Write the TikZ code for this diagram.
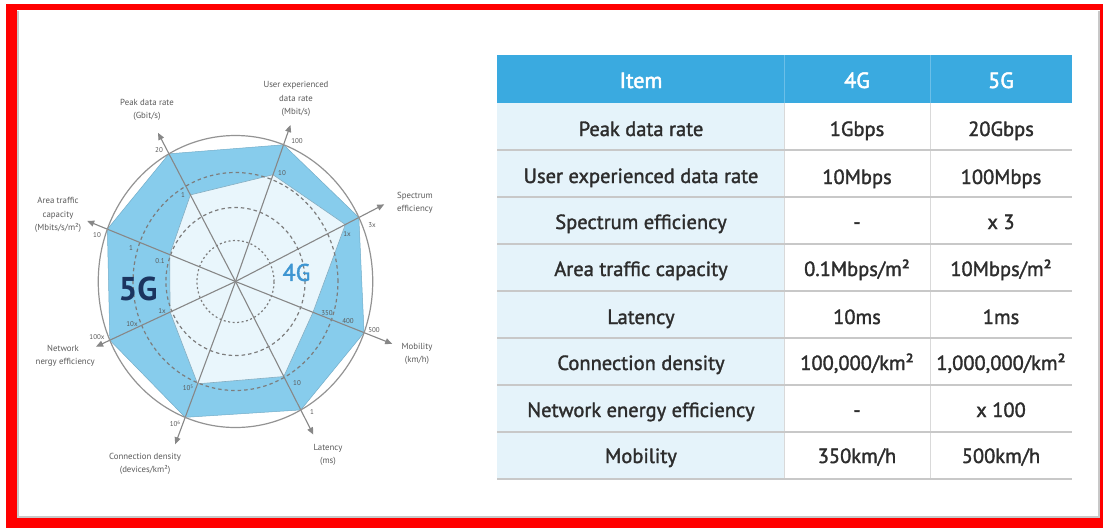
\documentclass[tikz,border=0pt]{standalone}
\usepackage{fontspec}
\setmainfont{PT Sans}
\newfontfamily\tabfont{PT Sans}[FakeBold=1.6]
\newfontfamily\hdrfont{PT Sans}[FakeBold=2.2]
\usetikzlibrary{arrows.meta}
\definecolor{framered}{RGB}{255,0,0}
\definecolor{hdr}{RGB}{58,170,224}
\definecolor{itembg}{RGB}{229,243,250}
\definecolor{fivefill}{RGB}{135,204,236}
\definecolor{fourfill}{RGB}{233,246,252}
\definecolor{axisgray}{RGB}{135,135,135}
\definecolor{ringgray}{RGB}{125,125,125}
\definecolor{labgray}{RGB}{90,90,90}
\definecolor{navy}{RGB}{27,52,95}
\definecolor{fourblue}{RGB}{62,150,210}
\definecolor{txt}{RGB}{45,45,45}
\definecolor{linegray}{RGB}{200,200,200}
\definecolor{shadowgray}{RGB}{200,200,200}
\newcommand{\supsm}[1]{\raisebox{0.55ex}{\fontsize{5}{5}\selectfont #1}}
\begin{document}
\begin{tikzpicture}[x=1pt,y=-1pt,
  axislbl/.style={font=\fontsize{8.8}{13.2}\selectfont, text=labgray, align=center, inner sep=0},
  ticklbl/.style={font=\fontsize{7}{8}\selectfont, text=labgray, inner sep=0},
  cell/.style={font=\tabfont\fontsize{20.5}{24}\selectfont, text=txt, inner sep=0, anchor=base},
  hcell/.style={font=\hdrfont\fontsize{22}{24}\selectfont, text=white, inner sep=0, anchor=base},
  axisline/.style={draw=axisgray, line width=1.1pt, -{Triangle[length=7pt,width=6pt]}},
  ringA/.style={draw=ringgray, line width=1.2pt, dash pattern=on 3.5pt off 3pt},
  ringB/.style={draw=ringgray, line width=1.2pt, dash pattern=on 2pt off 2.5pt},
  rowline/.style={draw=linegray, line width=1.8pt},
  colline/.style={draw=linegray!70, line width=0.8pt},
]
\useasboundingbox (0,0) rectangle (1103,528);
% frame
\fill[framered] (6,4) rectangle (1103,528);
\fill[white] (17,10) rectangle (1100,518);
\draw[shadowgray, line width=1.5pt] (18,11) -- (18,517) -- (1099,517) -- (1099,11);

% ---------------- radar chart ----------------
\begin{scope}
\clip (35,10) rectangle (480,518);
\begin{scope}[shift={(235.5,281.5)}, xscale=0.94, yscale=-1]
  \coordinate (ctr) at (0,0);
  % 5G vertices
  \coordinate (pk5) at (119:146);
  \coordinate (ue5) at (69.5:146);
  \coordinate (se5) at (26:146);
  \coordinate (mo5) at (-20.5:146);
  \coordinate (la5) at (-61.6:146);
  \coordinate (cd5) at (-111.5:146);
  \coordinate (ne5) at (-156.3:146);
  \coordinate (at5) at (159:146);
  % 4G vertices
  \coordinate (pk4) at (119:99);
  \coordinate (ue4) at (69.5:114);
  \coordinate (se4) at (26:130);
  \coordinate (mo4) at (-20.5:88);
  \coordinate (la4) at (-61.6:108);
  \coordinate (cd4) at (-111.5:110);
  \coordinate (ne4) at (-156.3:76);
  \coordinate (at4) at (159:75);
  % arrow tips
  \coordinate (pkT) at (119:170);
  \coordinate (ueT) at (69.5:167);
  \coordinate (seT) at (26:176);
  \coordinate (moT) at (-20.5:178);
  \coordinate (laT) at (-61.6:174);
  \coordinate (cdT) at (-111.5:175);
  \coordinate (neT) at (-156.3:162);
  \coordinate (atT) at (159:169);

  \fill[white] (ctr) circle[radius=146];
  \fill[fivefill, draw=fivefill!85!black, line width=0.5pt] (pk5) -- (ue5) -- (se5) -- (mo5) -- (la5) -- (cd5) -- (ne5) -- (at5) -- cycle;
  \fill[fourfill, draw=fivefill!60!gray, line width=0.6pt] (pk4) -- (ue4) -- (se4) -- (mo4) -- (la4) -- (cd4) -- (ne4) -- (at4) -- cycle;
  \draw[ringB] (ctr) circle[radius=41];
  \draw[ringA] (ctr) circle[radius=74];
  \draw[ringA] (ctr) circle[radius=109];
  \foreach \t in {pkT,ueT,seT,moT,laT,cdT,neT,atT}
    \draw[axisline] (ctr) -- (\t);
  \draw[draw=axisgray!90, line width=1.2pt] (ctr) circle[radius=146];
\end{scope}

% axis labels
\node[axislbl] (lpk) at (147,110) {Peak data rate\\(Gbit/s)};
\node[axislbl] (lue) at (296,99) {User experienced\\data rate\\(Mbit/s)};
\node[axislbl] (lse) at (415,202.5) {Spectrum\\efficiency};
\node[axislbl] (lmo) at (417,353.5) {Mobility\\(km/h)};
\node[axislbl] (lla) at (328,455) {Latency\\(ms)};
\node[axislbl] (lcd) at (145,463.5) {Connection density\\(devices/km²)};
\node[axislbl] (lne) at (63,356) {Network\\energy efficiency};
\node[axislbl] (lat) at (58,215) {Area traffic\\capacity\\(Mbits/s/m²)};

% tick labels
\node[ticklbl] (t1) at (159,150) {20};
\node[ticklbl] (t2) at (183,195) {1};
\node[ticklbl] (t3) at (297,141.5) {100};
\node[ticklbl] (t4) at (282,173) {10};
\node[ticklbl] (t5) at (372,225) {3x};
\node[ticklbl] (t6) at (347,234) {1x};
\node[ticklbl] (t7) at (374,330) {500};
\node[ticklbl] (t8) at (348,321) {400};
\node[ticklbl] (t9) at (327,313) {350};
\node[ticklbl] (t10) at (312,412) {1};
\node[ticklbl] (t11) at (297,383) {10};
\node[ticklbl] (t12) at (175,424) {10\supsm{6}};
\node[ticklbl] (t13) at (188,388) {10\supsm{5}};
\node[ticklbl] (t14) at (97,337) {100x};
\node[ticklbl] (t15) at (132,324) {10x};
\node[ticklbl] (t16) at (162,311) {1x};
\node[ticklbl] (t17) at (97,235.5) {10};
\node[ticklbl] (t18) at (131,248) {1};
\node[ticklbl] (t19) at (160,261.5) {0.1};

\node[font=\bfseries\fontsize{33}{36}\selectfont, text=navy, inner sep=0] (g5) at (138,289) {5G};
\node[font=\tabfont\fontsize{24}{26}\selectfont, text=fourblue, inner sep=0] (g4) at (296.5,272.5) {4G};
\end{scope}

% ---------------- table ----------------
\fill[hdr] (497,55) rectangle (1072,103);
\fill[itembg] (497,103) rectangle (784,479);
\draw[hdr!75!white, line width=0.8pt] (784,55) -- (784,103) (930,55) -- (930,103);
\draw[colline] (784,103) -- (784,479) (930,103) -- (930,479);
\foreach \y in {150,197,244,291,338,385,432,479}
  \draw[rowline] (497,\y) -- (1072,\y);

\node[hcell] (hitem) at (641,88) {Item};
\node[hcell] (h4g) at (857,88) {4G};
\node[hcell] (h5g) at (1001,88) {5G};

\node[cell] (r1a) at (641,136) {Peak data rate};
\node[cell] (r1b) at (857,136) {1Gbps};
\node[cell] (r1c) at (1001,136) {20Gbps};

\node[cell] (r2a) at (641,183) {User experienced data rate};
\node[cell] (r2b) at (857,184) {10Mbps};
\node[cell] (r2c) at (1001,184) {100Mbps};

\node[cell] (r3a) at (641,229) {Spectrum efficiency};
\node[cell] (r3b) at (857,229) {-};
\node[cell] (r3c) at (1001,229) {x 3};

\node[cell] (r4a) at (641,276) {Area traffic capacity};
\node[cell] (r4b) at (857,276) {0.1Mbps/m²};
\node[cell] (r4c) at (1001,276) {10Mbps/m²};

\node[cell] (r5a) at (641,324) {Latency};
\node[cell] (r5b) at (857,324) {10ms};
\node[cell] (r5c) at (1001,324) {1ms};

\node[cell] (r6a) at (641,370) {Connection density};
\node[cell] (r6b) at (857,370) {100,000/km²};
\node[cell] (r6c) at (1001,370) {1,000,000/km²};

\node[cell] (r7a) at (641,417) {Network energy efficiency};
\node[cell] (r7b) at (857,417) {-};
\node[cell] (r7c) at (1001,417) {x 100};

\node[cell] (r8a) at (641,463) {Mobility};
\node[cell] (r8b) at (857,463) {350km/h};
\node[cell] (r8c) at (1001,463) {500km/h};
\end{tikzpicture}
\end{document}
